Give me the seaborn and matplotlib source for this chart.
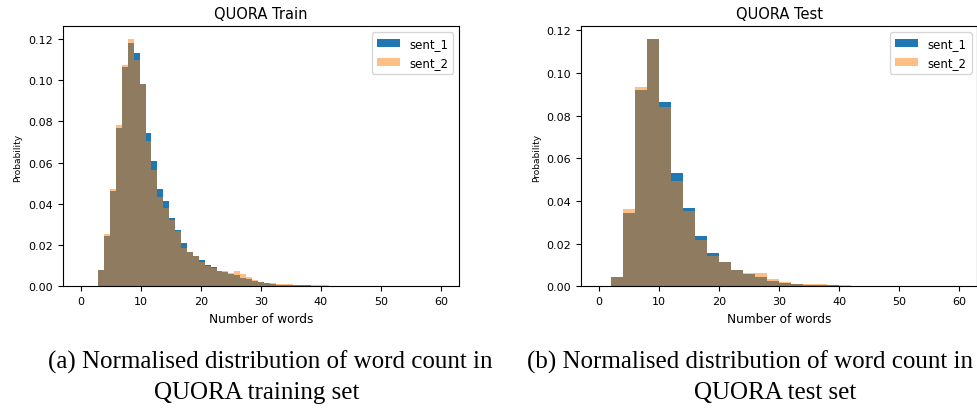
import matplotlib.pyplot as plt
import numpy as np
import pandas as pd
import seaborn as sns

# train histogram: 61 bins over 0..60, data starts in bin 3
train_first_bin = 3
train_sent1 = [0.0081, 0.0242, 0.0463, 0.0768, 0.1065, 0.1180, 0.1129, 0.0982, 0.0742, 0.0610,
               0.0471, 0.0413, 0.0331, 0.0274, 0.0210, 0.0169, 0.0145, 0.0128, 0.0104, 0.0093,
               0.0077, 0.0068, 0.0060, 0.0056, 0.0043, 0.0035, 0.0026, 0.0021, 0.0015, 0.0012,
               0.0009, 0.0009, 0.0008, 0.0007, 0.0007, 0.0005, 0.0004, 0.0003, 0.0002]
train_sent2 = [0.0081, 0.0253, 0.0474, 0.0784, 0.1071, 0.1200, 0.1097, 0.0982, 0.0703, 0.0565,
               0.0435, 0.0382, 0.0323, 0.0268, 0.0184, 0.0168, 0.0145, 0.0120, 0.0097, 0.0091,
               0.0077, 0.0073, 0.0064, 0.0074, 0.0058, 0.0045, 0.0029, 0.0023, 0.0018, 0.0015,
               0.0013, 0.0013, 0.0010, 0.0009, 0.0009, 0.0009, 0.0009, 0.0008, 0.0006]

# test histogram: 30 bins over 0..60, data starts in bin 1
test_first_bin = 1
test_sent1 = [0.0044, 0.0346, 0.0919, 0.1159, 0.0863, 0.0533, 0.0368, 0.0234, 0.0156, 0.0112,
              0.0078, 0.0059, 0.0044, 0.0025, 0.0014, 0.0011, 0.0008, 0.0008, 0.0005, 0.0002]
test_sent2 = [0.0044, 0.0364, 0.0935, 0.1159, 0.0841, 0.0492, 0.0352, 0.0218, 0.0143, 0.0112,
              0.0078, 0.0065, 0.0065, 0.0037, 0.0020, 0.0011, 0.0011, 0.0011, 0.0005, 0.0005]

train_edges = np.linspace(0, 60, 62)
test_edges = np.linspace(0, 60, 31)


def centers(edges, first, n):
    mids = (edges[:-1] + edges[1:]) / 2
    return mids[first:first + n]


fig = plt.figure(figsize=(9.77, 4.10), dpi=100)
ax1 = fig.add_axes([0.064, 0.299, 0.406, 0.634])
ax2 = fig.add_axes([0.5945, 0.299, 0.406, 0.634])

panels = [
    (ax1, 'QUORA Train', train_edges, train_first_bin, train_sent1, train_sent2),
    (ax2, 'QUORA Test', test_edges, test_first_bin, test_sent1, test_sent2),
]

for ax, title, edges, first, s1, s2 in panels:
    x = centers(edges, first, len(s1))
    df = pd.DataFrame({'x': x, 's1': s1, 's2': s2})
    bins = edges.tolist()
    sns.histplot(data=df, x='x', weights='s1', bins=bins, color='#1f77b4', alpha=1,
                 linewidth=0, label='sent_1', ax=ax)
    sns.histplot(data=df, x='x', weights='s2', bins=bins, color='#ff7f0e', alpha=0.5,
                 linewidth=0, label='sent_2', ax=ax)
    ax.set_xlim(-3, 63)
    ax.set_title(title, fontsize=10.5)
    ax.set_xlabel('Number of words', fontsize=8.7)
    ax.set_ylabel('Probability', fontsize=6.5)
    ax.tick_params(labelsize=8)
    ax.set_yticks([0, 0.02, 0.04, 0.06, 0.08, 0.10, 0.12])
    ax.set_yticklabels(['0.00', '0.02', '0.04', '0.06', '0.08', '0.10', '0.12'])
    ax.legend(loc='upper right', fontsize=8.5)

# captions below the panels
cap = dict(family='Liberation Serif', fontsize=18, va='baseline')
fig.text(48 / 977, 0.1017, '(a) Normalised distribution of word count in', ha='left', **cap)
fig.text(257 / 977, 0.026, 'QUORA training set', ha='center', **cap)
fig.text(527 / 977, 0.1017, '(b) Normalised distribution of word count in', ha='left', **cap)
fig.text(775 / 977, 0.026, 'QUORA test set', ha='center', **cap)

fig.savefig('out.png', dpi=100)
